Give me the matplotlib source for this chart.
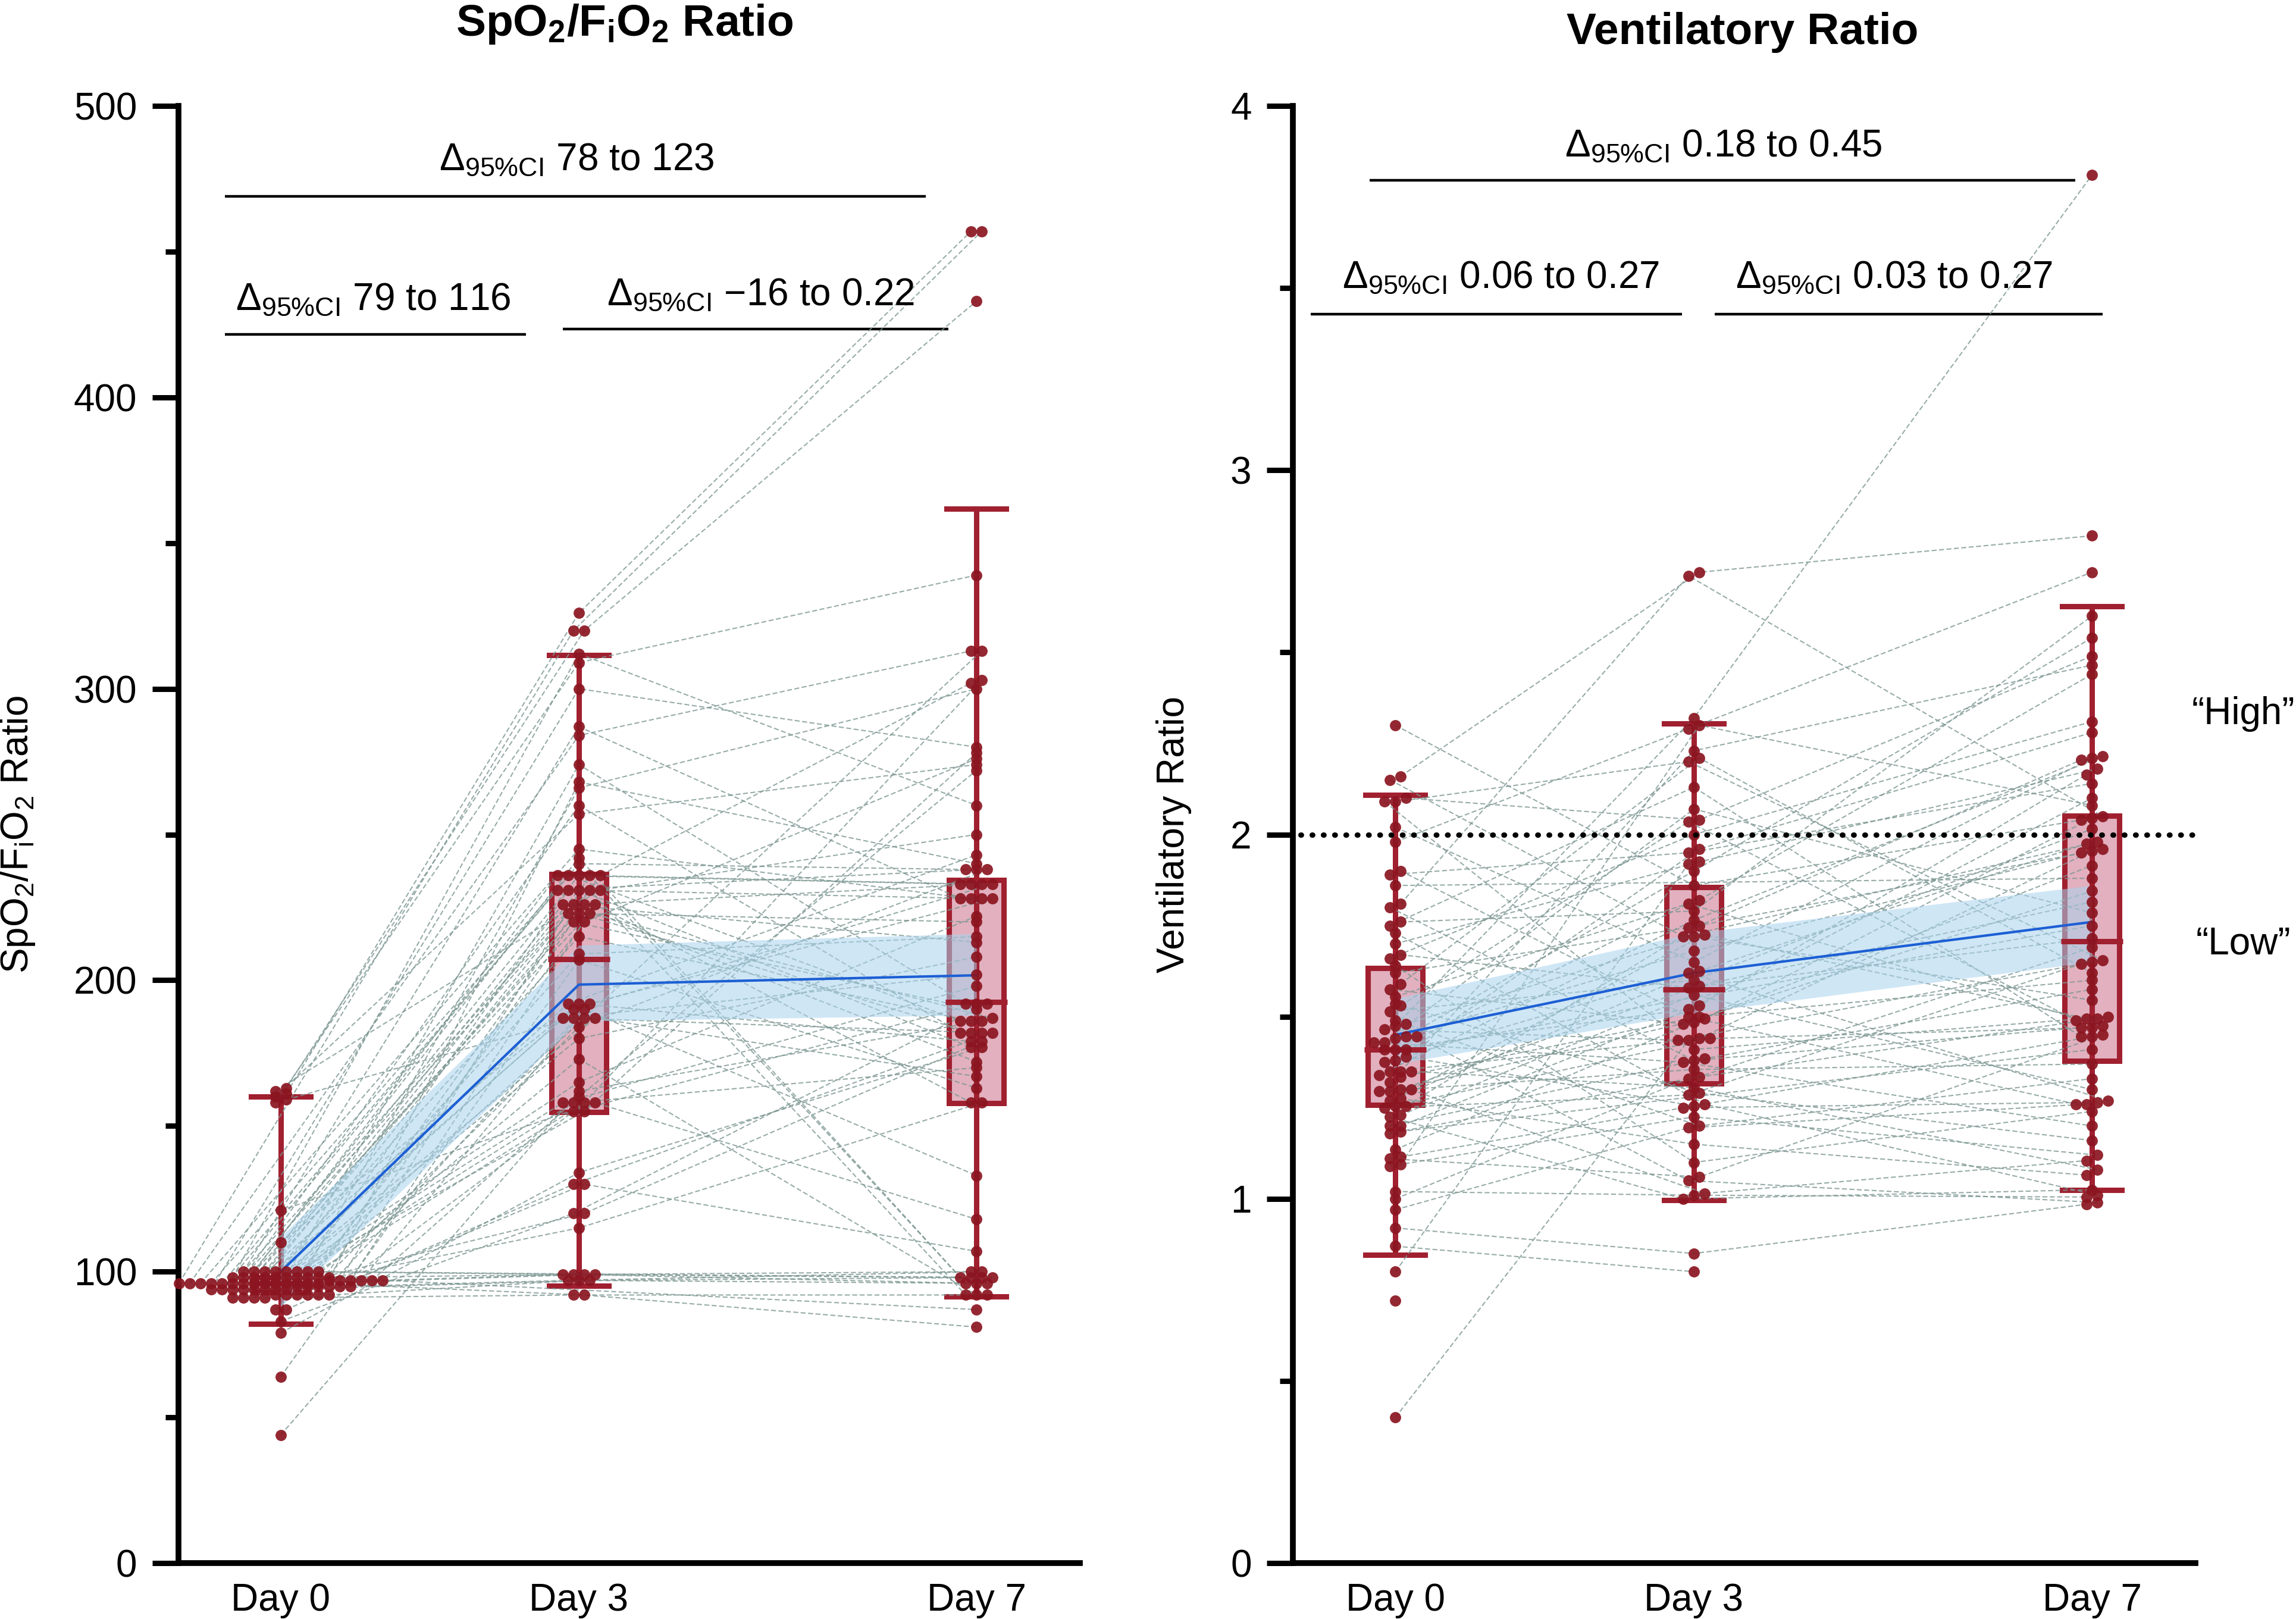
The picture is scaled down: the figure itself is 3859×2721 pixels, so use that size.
import numpy as np
import matplotlib
matplotlib.use('Agg')
import matplotlib.pyplot as plt
from matplotlib.ticker import MultipleLocator

plt.rcParams['font.family'] = ['Liberation Sans', 'DejaVu Sans']
plt.rcParams['mathtext.fontset'] = 'custom'
plt.rcParams['mathtext.rm'] = 'Liberation Sans'
plt.rcParams['mathtext.it'] = 'Liberation Sans:italic'
plt.rcParams['mathtext.bf'] = 'Liberation Sans:bold'
plt.rcParams['mathtext.default'] = 'regular'

nan = np.nan

# x positions (days) and labels
days = [0, 3, 7]
day_labels = ['Day 0', 'Day 3', 'Day 7']

# SpO2/FiO2 ratio per patient
sf_day0 = [161, 96, 163, 98, 158, 94, 100, 96, 92, 97,
           95, 98, 160, 96, 91, 94, 100, 96, 98, 97,
           95, 96, 92, 98, 94, 162, 100, 96, 91, 97,
           98, 95, 96, 94, 92, 100, 98, 64, 96, 110,
           97, 94, 95, 96, 159, 98, 100, 92, 96, 87,
           94, 44, 97, 91, 96, 98, 121, 95, 100, 79,
           87, 92, 83, 96, 94, 97, 98, 96, 100, 95,
           92, 94, 91, 96, 98, 100]
sf_day3 = [326, 320, 320, 312, 309, 300, 287, 284, 274, 268,
           266, 260, 257, 245, 242, 240, 236, 236, 236, 236,
           236, 231, 231, 231, 231, 231, 226, 226, 226, 226,
           223, 223, 223, 220, 220, 215, 209, 207, 192, 192,
           192, 190, 190, 187, 187, 187, 187, 184, 180, 173,
           165, 162, 160, 158, 158, 158, 158, 155, 155, 134,
           130, 130, 120, 120, 115, 99, 99, 99, 99, 97,
           97, 97, 92, 92, nan, nan]
sf_day7 = [457, 457, 433, 260, 339, 280, 228, 313, 192, 240,
           300, 182, 274, 228, 98, 238, 233, 186, 233, 96,
           302, 238, 228, 177, 92, 250, 213, 172, 233, 158,
           220, 182, 187, 190, 276, 186, 215, 163, 243, 179,
           228, 233, 133, 202, 182, 313, 167, 238, 208, 92,
           222, 186, 272, 198, 170, 303, 118, 192, 278, 177,
           182, 107, 192, 179, 158, 100, 98, 96, nan, 100,
           98, 96, 92, 81, 87, 98]

# box summaries SpO2/FiO2
sf_q1 = [93, 154.8, 157.8]
sf_med = [96, 207.2, 192.5]
sf_q3 = [98, 236.4, 234.4]
sf_whislo = [82, 95.1, 91.5]
sf_whishi = [160, 311.5, 361.7]

# mean and 95% CI band SpO2/FiO2
sf_mean = [100, 198.5, 201.7]
sf_ci_lo = [88, 186, 188]
sf_ci_hi = [112, 212, 216]

# ventilatory ratio per patient
vr_day0 = [2.30, 2.16, 2.15, 2.10, 2.09, 2.09, 2.02, 1.98, 1.90, 1.89,
           1.86, 1.81, 1.80, 1.76, 1.75, 1.73, 1.70, 1.67, 1.66, 1.64,
           1.62, 1.59, 1.575, 1.555, 1.535, 1.53, 1.515, 1.49, 1.48, 1.475,
           1.465, 1.445, 1.445, 1.44, 1.43, 1.43, 1.41, 1.41, 1.41, 1.39,
           1.38, 1.375, 1.35, 1.35, 1.35, 1.34, 1.335, 1.32, 1.30, 1.30,
           1.295, 1.295, 1.275, 1.27, 1.255, 1.255, 1.25, 1.23, 1.225, 1.20,
           1.20, 1.185, 1.18, 1.135, 1.115, 1.11, 1.095, 1.09, 1.02, 1.00,
           0.97, 0.92, 0.87, 0.80, 0.72, 0.40]
vr_day3 = [1.86, 2.72, 1.72, 2.04, 1.41, 2.20, 1.65, 2.29, 1.50, 1.95,
           nan, 2.71, 1.38, 1.79, 2.13, 1.26, 1.925, 1.58, 2.00, 1.10,
           1.745, 2.21, 1.48, 1.82, 1.29, 2.035, 1.60, 1.20, 1.72, 2.32,
           1.435, 1.90, 1.05, 1.68, 1.375, 2.07, 1.52, 1.81, nan, 1.255,
           1.96, 1.62, 1.44, 2.23, 1.305, 1.765, 1.50, 1.015, 1.585, 1.725,
           1.355, 1.495, 1.15, 1.625, 1.44, 1.75, 1.285, 1.56, 1.00, 1.385,
           1.53, nan, 1.335, 1.485, 1.25, 1.06, 2.30, 1.225, 1.01, 1.33,
           1.195, 0.85, 0.80, 1.92, nan, 1.435]
vr_day7 = [2.04, 2.82, 1.98, 2.49, 1.50, 1.655, 2.21, 2.72, 1.26, 2.14,
           1.88, 2.05, 1.47, 2.60, 1.445, 1.01, 2.18, 1.715, 2.31, 1.24,
           1.96, 1.62, 1.845, 2.44, 1.16, 1.49, 2.015, 1.33, 1.545, 3.81,
           1.65, 2.54, 0.99, 1.95, 1.20, 1.785, 2.10, 1.475, 1.75, 1.445,
           2.28, 1.27, 1.955, 2.465, 1.08, 2.215, 1.60, 1.105, 1.815, 1.495,
           1.37, 2.045, 1.065, 1.975, 1.47, 2.205, 1.645, 1.30, 1.025, 1.575,
           2.165, 1.41, 1.69, 1.915, 1.265, 1.45, 2.08, 1.12, 1.005, 1.495,
           1.26, 0.985, nan, nan, nan, nan]

# box summaries ventilatory ratio
vr_q1 = [1.257, 1.317, 1.378]
vr_med = [1.41, 1.574, 1.707]
vr_q3 = [1.634, 1.855, 2.052]
vr_whislo = [0.847, 0.996, 1.024]
vr_whishi = [2.108, 2.305, 2.627]

# mean and 95% CI band ventilatory ratio
vr_mean = [1.45, 1.62, 1.76]
vr_ci_lo = [1.37, 1.51, 1.65]
vr_ci_hi = [1.55, 1.73, 1.86]

# colours
dot_color = '#8b1520'
box_edge = '#a02030'
box_fill = '#e2b0bf'
line_color = '#7d9793'
band_color = '#a9d3ee'
mean_color = '#1c5fd4'

FS = 46


def swarm_x(ax, center, values, row_h, step):
    # Prism-style column scatter: close values share a row and are spread sideways
    vals = np.asarray(values, float)
    ok = ~np.isnan(vals)
    pts = ax.transData.transform(np.column_stack([np.full(ok.sum(), center), vals[ok]]))
    ypix = pts[:, 1]
    x0 = pts[0, 0]
    order = np.argsort(ypix, kind='stable')
    rows = []
    cur = [order[0]]
    start = ypix[order[0]]
    for i in order[1:]:
        if ypix[i] - start < row_h:
            cur.append(i)
        else:
            rows.append(cur)
            cur = [i]
            start = ypix[i]
    rows.append(cur)
    xoff = np.zeros(len(ypix))
    for row in rows:
        n = len(row)
        for j, i in enumerate(row):
            xoff[i] = (j - (n - 1) / 2) * step
    xd = ax.transData.inverted().transform(np.column_stack([x0 + xoff, ypix]))[:, 0]
    out = np.full(len(vals), np.nan)
    out[ok] = xd
    return out


def draw_panel(ax, data, q1, med, q3, wlo, whi, mean, ci_lo, ci_hi, ylim, major, minor, row_h):
    ax.set_xlim(-1.03, 8.04)
    ax.set_ylim(*ylim)
    for s in ['top', 'right']:
        ax.spines[s].set_visible(False)
    for s in ['left', 'bottom']:
        ax.spines[s].set_linewidth(7)
    ax.yaxis.set_major_locator(MultipleLocator(major))
    ax.yaxis.set_minor_locator(MultipleLocator(minor))
    ax.tick_params(axis='y', which='major', length=32, width=6.5, labelsize=FS, pad=18)
    ax.tick_params(axis='y', which='minor', length=16, width=6.5)
    ax.set_xticks(days, day_labels)
    ax.tick_params(axis='x', length=0, labelsize=FS, pad=24)

    # boxes
    stats = [dict(med=med[k], q1=q1[k], q3=q3[k], whislo=wlo[k], whishi=whi[k], fliers=[])
             for k in range(3)]
    ax.bxp(stats, positions=days, widths=0.55, patch_artist=True, manage_ticks=False,
           capwidths=0.6,
           boxprops=dict(facecolor=box_fill, edgecolor=box_edge, linewidth=6.5),
           whiskerprops=dict(color=box_edge, linewidth=6.5),
           capprops=dict(color=box_edge, linewidth=6.5),
           medianprops=dict(linestyle='none'), zorder=2)
    ax.vlines(days, q1, q3, color=box_edge, lw=6.5, zorder=2.5)

    # column-scatter positions for each day
    xs = [swarm_x(ax, days[k], data[k], row_h, 18) for k in range(3)]
    ys = [np.asarray(d, float) for d in data]

    # individual patient lines
    for i in range(len(ys[0])):
        px = [xs[k][i] for k in range(3) if not np.isnan(ys[k][i])]
        py = [ys[k][i] for k in range(3) if not np.isnan(ys[k][i])]
        if len(px) > 1:
            ax.plot(px, py, color=line_color, lw=1.5, ls=(0, (4, 2)), alpha=0.8, zorder=3)

    # mean with CI band
    ax.fill_between(days, ci_lo, ci_hi, color=band_color, alpha=0.55, lw=0, zorder=4)
    ax.plot(days, mean, color=mean_color, lw=3, zorder=5)

    # medians, drawn a bit wider than the boxes
    ax.hlines(med, np.array(days) - 0.31, np.array(days) + 0.31, color=box_edge, lw=6.5, zorder=6)

    for k in range(3):
        ax.scatter(xs[k], ys[k], s=185, color=dot_color, alpha=0.92, lw=0, zorder=7, clip_on=False)


def bracket(ax, x0, x1, y_line, x_text, y_text, label):
    ax.plot([x0, x1], [y_line, y_line], color='black', lw=3.2, solid_capstyle='butt', clip_on=False)
    ax.text(x_text, y_text, r'$\Delta_{95\%\mathrm{CI}}$ ' + label, ha='center', va='baseline',
            fontsize=FS, clip_on=False)


fig = plt.figure(figsize=(38.59, 27.21), dpi=100)
ax1 = fig.add_axes([0.0777, 0.0345, 0.3926, 0.9001])
ax2 = fig.add_axes([0.5631, 0.0345, 0.3931, 0.9001])

draw_panel(ax1, [sf_day0, sf_day3, sf_day7], sf_q1, sf_med, sf_q3, sf_whislo, sf_whishi,
           sf_mean, sf_ci_lo, sf_ci_hi, (0, 500), 100, 50, 7)
draw_panel(ax2, [vr_day0, vr_day3, vr_day7], vr_q1, vr_med, vr_q3, vr_whislo, vr_whishi,
           vr_mean, vr_ci_lo, vr_ci_hi, (0, 4), 1, 0.5, 12)

# comparison brackets
bracket(ax1, -0.56, 6.49, 469, 2.98, 478, '78 to 123')
bracket(ax1, -0.56, 2.47, 421.6, 0.93, 430, '79 to 116')
bracket(ax1, 2.84, 6.72, 423.5, 4.83, 431.6, '\u221216 to 0.22')
bracket(ax2, -0.26, 6.83, 3.796, 3.30, 3.861, '0.18 to 0.45')
bracket(ax2, -0.85, 2.88, 3.428, 1.06, 3.50, '0.06 to 0.27')
bracket(ax2, 3.21, 7.11, 3.428, 5.01, 3.50, '0.03 to 0.27')

# threshold line and labels
ax2.plot([-0.95, 8.09], [2, 2], color='black', lw=6.5, ls=(0, (0.1, 2.0)),
         dash_capstyle='round', clip_on=False, zorder=8)
ax2.text(8.52, 2.33, '\u201cHigh\u201d', ha='center', va='center', fontsize=FS, clip_on=False)
ax2.text(8.52, 1.70, '\u201cLow\u201d', ha='center', va='center', fontsize=FS, clip_on=False)

# axis labels
ax1.set_ylabel(r'SpO$_2$/F$_\mathrm{i}$O$_2$ Ratio', fontsize=FS)
ax1.yaxis.set_label_coords(-0.157, 0.5)
ax2.set_ylabel('Ventilatory Ratio', fontsize=FS)
ax2.yaxis.set_label_coords(-0.112, 0.5)

# panel titles
fig.text(0.272, 0.985, r'SpO$_\mathbf{2}$/F$_\mathbf{i}$O$_\mathbf{2}$ Ratio', ha='center', va='center',
         fontsize=54, fontweight='bold')
fig.text(0.759, 0.980, 'Ventilatory Ratio', ha='center', va='center', fontsize=54, fontweight='bold')

fig.savefig('out.png', dpi=100)
